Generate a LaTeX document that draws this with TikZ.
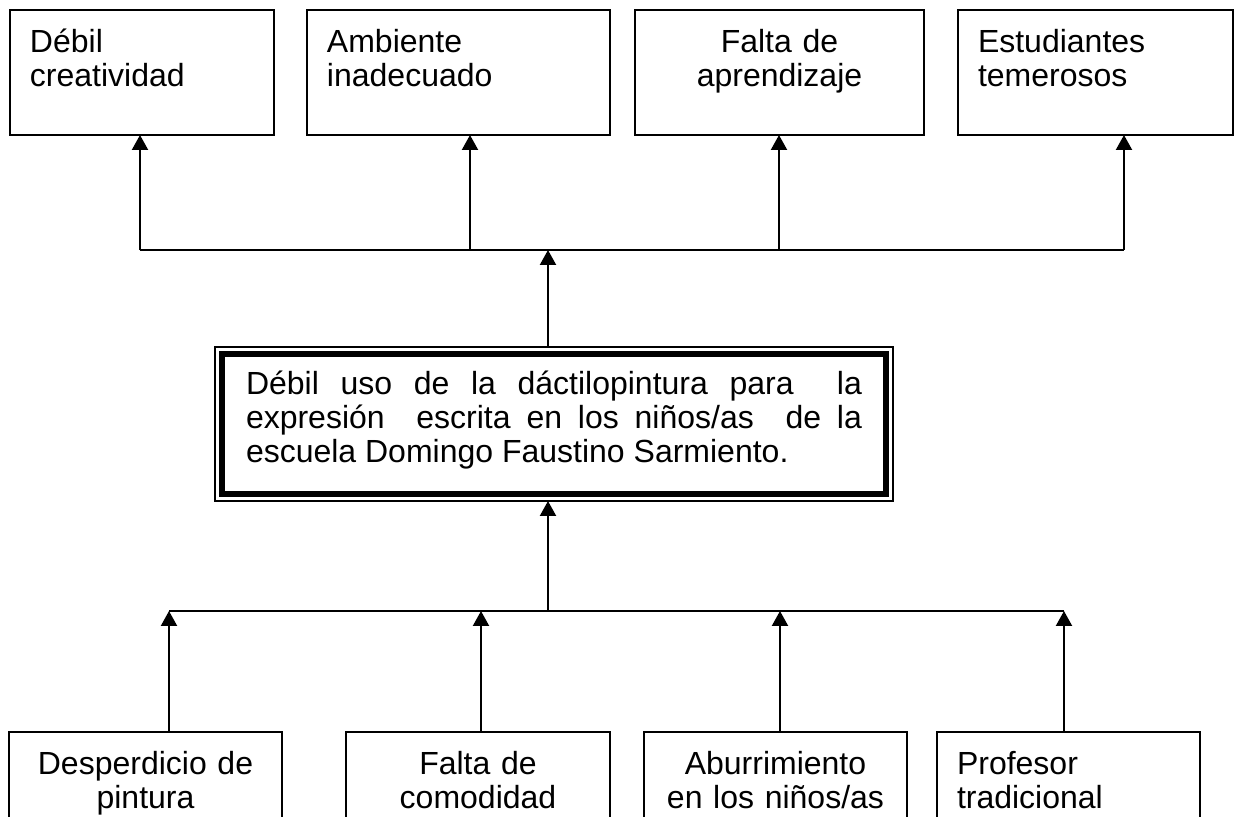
\documentclass[tikz,border=0pt]{standalone}
\usepackage{fontspec}
\setmainfont{Liberation Sans}
\usetikzlibrary{arrows.meta}
\usetikzlibrary{fit}
\hyphenpenalty=10000
\tolerance=10000
\hbadness=10000

\tikzset{
  caja/.style={draw, line width=0.5pt, outer sep=0pt, anchor=north west,
    inner xsep=7.5pt, inner ysep=0pt, text height=15.75pt, text depth=31.125pt,
    font=\fontsize{12}{12.75}\selectfont},
  problema/.style={draw, line width=2.25pt, outer sep=0pt, anchor=north west,
    inner xsep=9pt, inner ysep=0pt, text width=231pt, align=justify,
    text height=15pt, text depth=37.5pt, font=\fontsize{12}{12.75}\selectfont},
  marco/.style={draw, line width=0.45pt, outer sep=0pt, inner sep=2.625pt},
  linea/.style={line width=0.75pt},
  flecha/.style={line width=0.75pt, -{Triangle[length=5.6pt,width=6pt]}}
}

\begin{document}
\begin{tikzpicture}[x=0.375pt, y=-0.375pt]
        \clip (0, 0) rectangle (1238, 816);

        % efectos
        \node[caja, text width=84pt, align=left] (e1) at (10, 10) {Débil\\creatividad};
        \node[caja, text width=98.625pt, align=left] (e2) at (307, 10) {Ambiente\\inadecuado};
        \node[caja, text width=93.375pt, align=center] (e3) at (635, 10) {Falta de\\aprendizaje};
        \node[caja, text width=88.125pt, align=left] (e4) at (958, 10) {Estudiantes\\temerosos};

        % problema central
        \node[problema] (prob) at (222, 354)
            {Débil uso de la dáctilopintura para\ \ la\linebreak
             expresión\ \ escrita en los niños/as\ \ de la\linebreak
             escuela Domingo Faustino Sarmiento.};
        \node[marco, fit=(prob)] (probbox) {};

        % causas
        \node[caja, text width=87.375pt, align=center] (b1) at (9, 732) {Desperdicio de\\pintura};
        \node[caja, text width=84pt, align=center] (b2) at (346, 732) {Falta de\\comodidad};
        \node[caja, text width=83.625pt, align=center] (b3) at (644, 732) {Aburrimiento\\en los niños/as};
        \node[caja, text width=83.625pt, align=left] (b4) at (937, 732) {Profesor\\tradicional};

        % conectores de arriba
        \coordinate (s1) at (140, 250);
        \coordinate (s2) at (470, 250);
        \coordinate (s3) at (779, 250);
        \coordinate (s4) at (1124, 250);
        \coordinate (arr) at (548, 250);
        \draw[linea] (s1) -- (s4);
        \foreach \i in {1,...,4}
            \draw[flecha] (s\i) -- (s\i |- e\i.south);
        \draw[flecha] (probbox.north -| arr) -- (arr);

        % conectores de abajo
        \coordinate (i1) at (169, 611);
        \coordinate (i2) at (481, 611);
        \coordinate (i3) at (780, 611);
        \coordinate (i4) at (1064, 611);
        \coordinate (aba) at (548, 611);
        \draw[linea] (i1) -- (i4);
        \foreach \i in {1,...,4}
            \draw[flecha] (i\i |- b\i.north) -- (i\i);
        \draw[flecha] (aba) -- (probbox.south -| aba);
\end{tikzpicture}
\end{document}
